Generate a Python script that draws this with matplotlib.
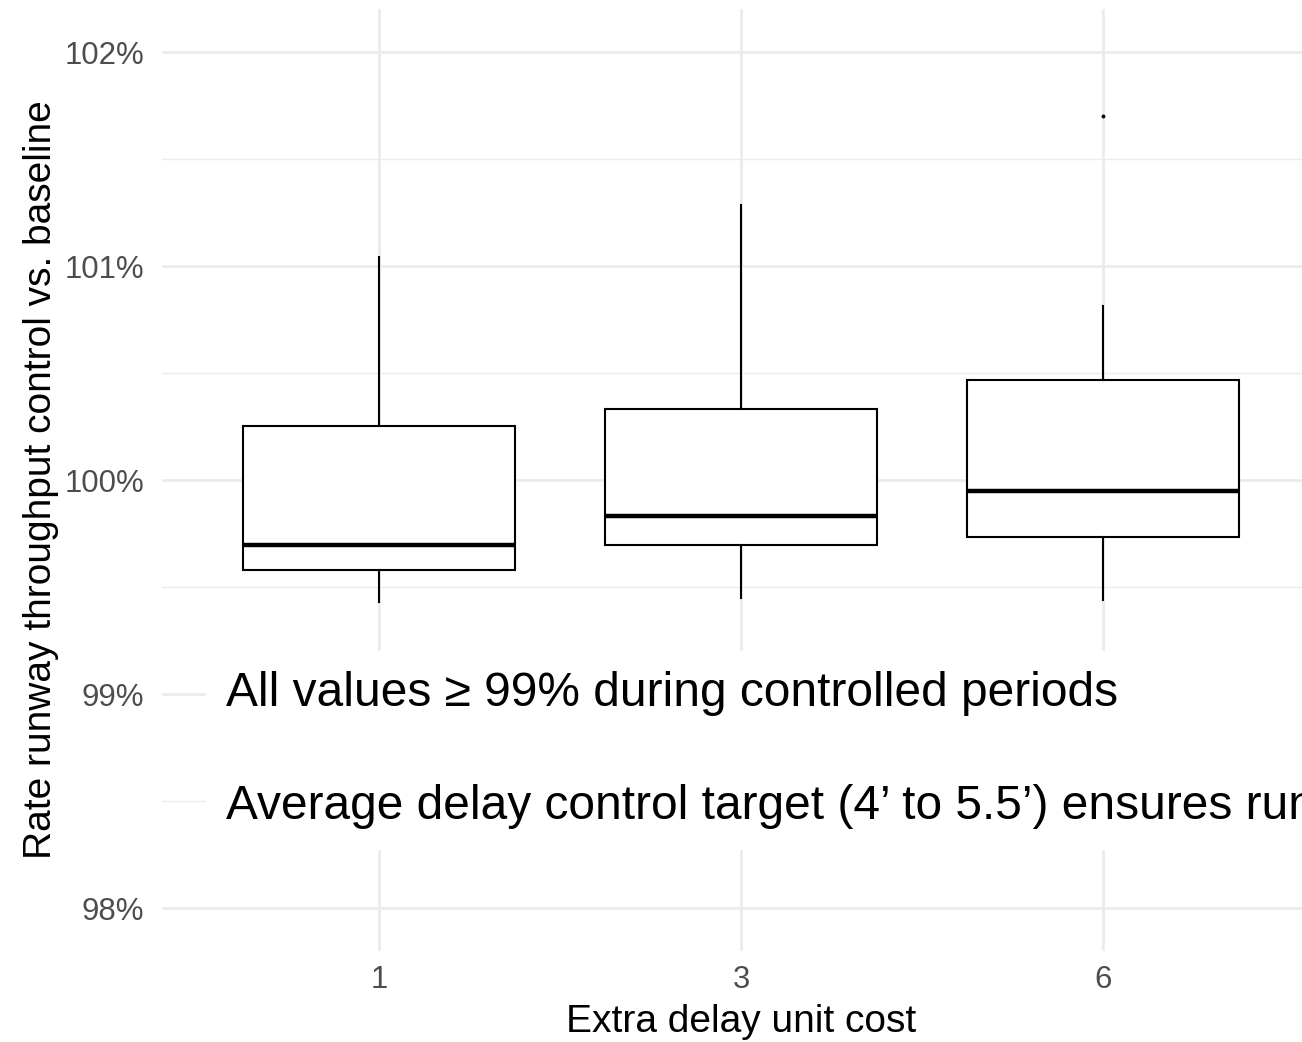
import matplotlib
matplotlib.use('Agg')
import matplotlib.pyplot as plt
from matplotlib.ticker import FixedLocator, FuncFormatter

plt.rcParams['font.family'] = ['Liberation Sans', 'DejaVu Sans']

# boxplot summary per extra delay unit cost (values in % of baseline)
costs = ['1', '3', '6']
whisker_low = [99.430, 99.447, 99.439]
q1 = [99.579, 99.696, 99.734]
median = [99.696, 99.832, 99.949]
q3 = [100.252, 100.332, 100.467]
whisker_high = [101.042, 101.284, 100.813]
outliers = [[], [], [101.701]]

note = ('All values \u2265 99% during controlled periods\n\n'
        'Average delay control target (4\u2019 to 5.5\u2019) ensures runway throughput')

stats = []
for i, c in enumerate(costs):
    stats.append(dict(label=c, whislo=whisker_low[i], q1=q1[i], med=median[i],
                      q3=q3[i], whishi=whisker_high[i], fliers=outliers[i]))

fig = plt.figure(figsize=(13.02, 10.42), dpi=100)
ax = fig.add_axes([162 / 1302, 1 - 950.8 / 1042, (1320 - 162) / 1302, (950.8 - 9.2) / 1042])

grid_col = '#EBEBEB'
ax.set_axisbelow(True)
ax.set_xlim(0.4, 3.6)
ax.set_ylim(97.8, 102.2)
ax.yaxis.set_major_locator(FixedLocator([98, 99, 100, 101, 102]))
ax.yaxis.set_minor_locator(FixedLocator([98.5, 99.5, 100.5, 101.5]))
ax.yaxis.set_major_formatter(FuncFormatter(lambda v, p: f'{v:.0f}%'))
ax.grid(True, which='major', color=grid_col, lw=2.0)
ax.grid(True, which='minor', axis='y', color=grid_col, lw=1.0)

ax.bxp(stats, positions=range(1, len(costs) + 1), widths=0.75, showcaps=False,
       patch_artist=True,
       boxprops=dict(facecolor='white', edgecolor='black', linewidth=1.5),
       whiskerprops=dict(color='black', linewidth=1.5),
       medianprops=dict(color='black', linewidth=3.2, solid_capstyle='butt'),
       flierprops=dict(marker='o', markersize=1.8, markerfacecolor='black',
                       markeredgecolor='black'))

for s in ax.spines.values():
    s.set_visible(False)
ax.tick_params(axis='both', which='both', length=0)
ax.tick_params(axis='y', labelsize=22.4, labelcolor='#4D4D4D', pad=13)
ax.tick_params(axis='x', labelsize=22.4, labelcolor='#4D4D4D', pad=10)

ax.set_xlabel('Extra delay unit cost', fontsize=28, color='black', labelpad=7)
ax.set_ylabel('Rate runway throughput control vs. baseline', fontsize=28,
              color='black', labelpad=4)

ax.text(0.577, 98.738, note, fontsize=34.5, color='black', ha='left', va='center',
        linespacing=1.34,
        bbox=dict(facecolor='white', edgecolor='none', boxstyle='square,pad=0.42'))

fig.savefig('out.png', dpi=100)
